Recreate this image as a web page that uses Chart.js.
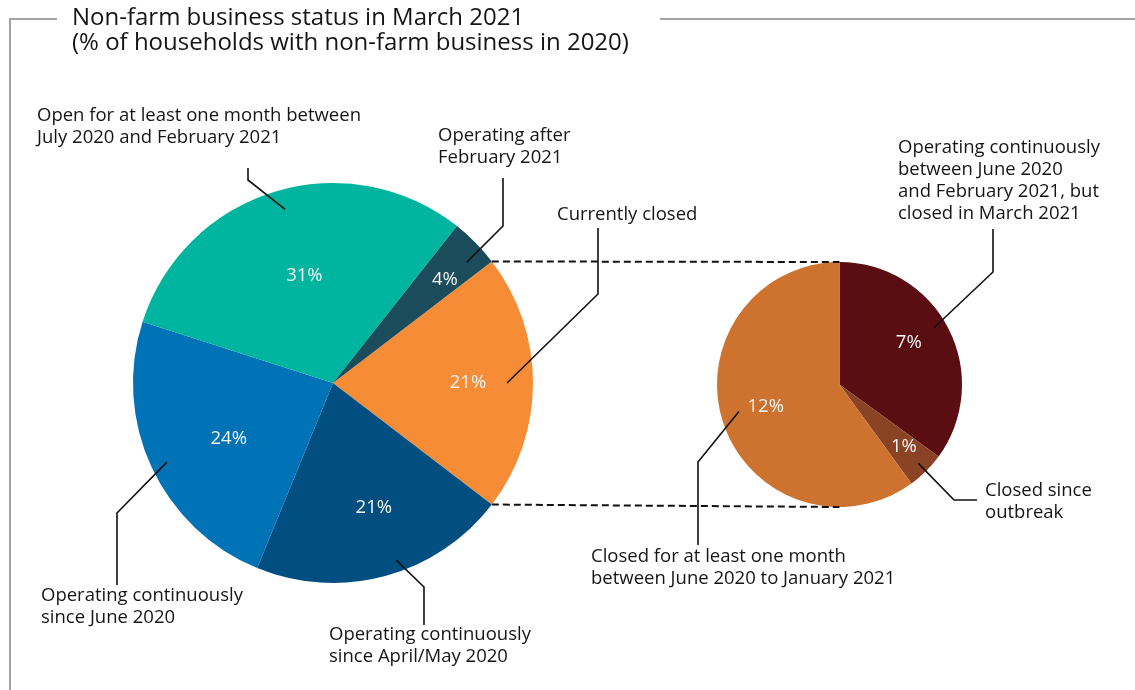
<!DOCTYPE html>
<html>
<head>
<meta charset="utf-8">
<script src="https://cdn.jsdelivr.net/npm/chart.js@4.4.1/dist/chart.umd.min.js"></script>
<style>
  html, body { margin: 0; padding: 0; background: #ffffff; }
  #wrap { position: relative; width: 1135px; height: 690px; overflow: hidden; }
  #wrap canvas { position: absolute; left: 0; top: 0; }
</style>
</head>
<body>
<div id="wrap">
  <canvas id="mainPie" width="1135" height="690"></canvas>
  <canvas id="closedPie" width="1135" height="690"></canvas>
</div>
<script>
// ---- data ----
const titleLines = [
  'Non-farm business status in March 2021',
  '(% of households with non-farm business in 2020)'
];

// main pie, clockwise starting with the slice that is broken out
const mainCategories = [
  'Currently closed',
  'Operating continuously since April/May 2020',
  'Operating continuously since June 2020',
  'Open for at least one month between July 2020 and February 2021',
  'Operating after February 2021'
];
const mainValues = [21, 21, 24, 31, 4];
const mainColors = ['#f68d36', '#004f80', '#0072b6', '#00b5a0', '#1b4c5b'];

// breakdown of "Currently closed", clockwise from 12 o'clock
const closedCategories = [
  'Operating continuously between June 2020 and February 2021, but closed in March 2021',
  'Closed since outbreak',
  'Closed for at least one month between June 2020 to January 2021'
];
const closedValues = [7, 1, 12];
const closedColors = ['#5b0e12', '#8b4325', '#cd732f'];

// ---- layout ----
const FONT = '"Open Sans", "Noto Sans", sans-serif';
const TEXT = '#151515';
const LABEL_SIZE = 18.5;
const LINE_H = 22;

// where the value text sits inside each slice (fraction of radius, angle tweak in degrees)
const mainValuePos = [[0.675, 0], [0.655, -3], [0.59, -3], [0.555, 2], [0.76, 2]];
const closedValuePos = [[0.66, -4], [0.73, -1], [0.63, 1]];

// callout text blocks and their leader lines (text side first, the last point is on the slice)
const mainCallouts = [
  { index: 3, x: 37,  y: 116, lines: ['Open for at least one month between', 'July 2020 and February 2021'],
    path: [[248, 168], [248, 180]], tip: [0.9, 1.5] },
  { index: 4, x: 438, y: 136, lines: ['Operating after', 'February 2021'],
    path: [[503, 178], [503, 226]], tip: [0.9, 2.5] },
  { index: 0, x: 557, y: 215, lines: ['Currently closed'],
    path: [[598, 228], [598, 294]], tip: [0.87, 0] },
  { index: 2, x: 41,  y: 596, lines: ['Operating continuously', 'since June 2020'],
    path: [[117, 585], [117, 513]], tip: [0.92, -0.5] },
  { index: 1, x: 329, y: 635, lines: ['Operating continuously', 'since April/May 2020'],
    path: [[424, 625], [424, 587]], tip: [0.94, -4.5] }
];
const closedCallouts = [
  { index: 0, x: 898, y: 148, lines: ['Operating continuously', 'between June 2020', 'and February 2021, but', 'closed in March 2021'],
    path: [[993, 229], [993, 272]], tip: [0.9, -4] },
  { index: 1, x: 985, y: 491, lines: ['Closed since', 'outbreak'],
    path: [[977, 500], [954, 500]], tip: [0.91, 0] },
  { index: 2, x: 591, y: 557, lines: ['Closed for at least one month', 'between June 2020 to January 2021'],
    path: [[698, 545], [698, 462]], tip: [0.85, 3] }
];

function sum(a) { return a.reduce((s, v) => s + v, 0); }

function pointOnArc(arc, frac, turnDeg) {
  const mid = (arc.startAngle + arc.endAngle) / 2 + turnDeg * Math.PI / 180;
  const r = arc.outerRadius * frac;
  return [arc.x + r * Math.cos(mid), arc.y + r * Math.sin(mid)];
}

function drawValues(chart, values, pos) {
  const ctx = chart.ctx;
  const arcs = chart.getDatasetMeta(0).data;
  ctx.save();
  ctx.font = LABEL_SIZE + 'px ' + FONT;
  ctx.fillStyle = '#f4f4f4';
  ctx.textAlign = 'center';
  ctx.textBaseline = 'middle';
  arcs.forEach((arc, i) => {
    const p = pointOnArc(arc, pos[i][0], pos[i][1]);
    ctx.fillText(values[i] + '%', p[0], p[1]);
  });
  ctx.restore();
}

function drawCallouts(chart, callouts) {
  const ctx = chart.ctx;
  const arcs = chart.getDatasetMeta(0).data;
  ctx.save();
  ctx.font = LABEL_SIZE + 'px ' + FONT;
  ctx.fillStyle = TEXT;
  ctx.textAlign = 'left';
  ctx.textBaseline = 'middle';
  ctx.strokeStyle = '#111111';
  ctx.lineWidth = 1.6;
  ctx.lineJoin = 'miter';
  callouts.forEach(c => {
    c.lines.forEach((t, k) => ctx.fillText(t, c.x, c.y + k * LINE_H));
    const tip = pointOnArc(arcs[c.index], c.tip[0], c.tip[1]);
    ctx.beginPath();
    ctx.moveTo(c.path[0][0], c.path[0][1]);
    for (let k = 1; k < c.path.length; k++) ctx.lineTo(c.path[k][0], c.path[k][1]);
    ctx.lineTo(tip[0], tip[1]);
    ctx.stroke();
  });
  ctx.restore();
}

// frame, title and callouts around the main pie
const mainDecor = {
  id: 'mainDecor',
  beforeDraw(chart) {
    const ctx = chart.ctx;
    ctx.save();
    ctx.strokeStyle = '#a3a3a3';
    ctx.lineWidth = 2;
    ctx.beginPath();
    ctx.moveTo(57, 19); ctx.lineTo(10, 19); ctx.lineTo(10, 690);
    ctx.moveTo(660, 19); ctx.lineTo(1135, 19);
    ctx.stroke();
    ctx.font = '24px ' + FONT;
    ctx.fillStyle = TEXT;
    ctx.textBaseline = 'middle';
    titleLines.forEach((t, k) => ctx.fillText(t, 72, 18 + k * 25));
    ctx.restore();
  },
  afterDraw(chart) {
    drawValues(chart, mainValues, mainValuePos);
    drawCallouts(chart, mainCallouts);
  }
};

const mainTotal = sum(mainValues);
// centre the broken-out slice on 3 o'clock
const mainRotation = 90 - (mainValues[0] / mainTotal) * 180;

const baseOptions = {
  responsive: false,
  animation: false,
  events: [],
  plugins: { legend: { display: false }, tooltip: { enabled: false } }
};

const mainChart = new Chart(document.getElementById('mainPie'), {
  type: 'pie',
  data: {
    labels: mainCategories,
    datasets: [{ data: mainValues, backgroundColor: mainColors, borderWidth: 0, hoverOffset: 0, offset: 0 }]
  },
  options: Object.assign({}, baseOptions, {
    rotation: mainRotation,
    layout: { padding: { left: 133, top: 183, right: 602, bottom: 107 } }
  }),
  plugins: [mainDecor]
});

// dashed connectors from the broken-out slice, callouts for the breakdown
const closedDecor = {
  id: 'closedDecor',
  afterDraw(chart) {
    const ctx = chart.ctx;
    const src = mainChart.getDatasetMeta(0).data[0];
    const a0 = src.startAngle, a1 = src.endAngle, R = src.outerRadius;
    const first = chart.getDatasetMeta(0).data[0];
    const cx = first.x, cy = first.y, r = first.outerRadius;
    ctx.save();
    ctx.strokeStyle = '#111111';
    ctx.lineWidth = 2;
    ctx.setLineDash([7, 4]);
    ctx.beginPath();
    ctx.moveTo(src.x + R * Math.cos(a0), src.y + R * Math.sin(a0));
    ctx.lineTo(cx, cy - r);
    ctx.moveTo(src.x + R * Math.cos(a1), src.y + R * Math.sin(a1));
    ctx.lineTo(cx, cy + r);
    ctx.stroke();
    ctx.restore();
    drawValues(chart, closedValues, closedValuePos);
    drawCallouts(chart, closedCallouts);
  }
};

const closedChart = new Chart(document.getElementById('closedPie'), {
  type: 'pie',
  data: {
    labels: closedCategories,
    datasets: [{ data: closedValues, backgroundColor: closedColors, borderWidth: 0, hoverOffset: 0, offset: 0 }]
  },
  options: Object.assign({}, baseOptions, {
    rotation: 0,
    layout: { padding: { left: 717, top: 262, right: 173, bottom: 183 } }
  }),
  plugins: [closedDecor]
});
</script>
</body>
</html>
